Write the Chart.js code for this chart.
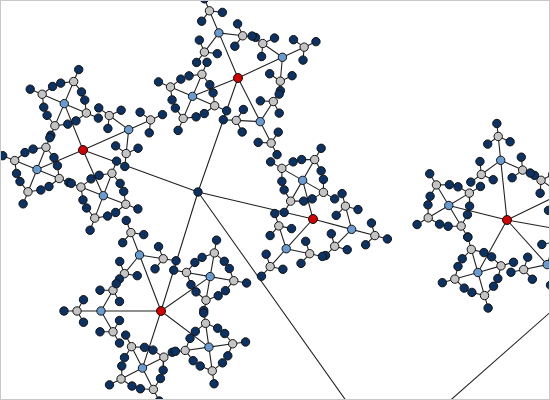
<!DOCTYPE html>
<html>
<head>
<meta charset="utf-8">
<script src="https://cdn.jsdelivr.net/npm/chart.js@4"></script>
<style>
  html, body { margin: 0; padding: 0; background: #fff; }
  #wrap { width: 548px; height: 398px; border: 1px solid #c8c8c8; }
</style>
</head>
<body>
<div id="wrap"><canvas id="tree" width="548" height="398"></canvas></div>
<script>
// tree (pixel coords, y down)
const rootPos = [385, 456];
const hubX = [197, 629];
const hubY = [191, 241];
const redX = [82, 237, 312, 160, 506];
const redY = [149, 77, 218, 310, 219];
const redHub = [0, 0, 0, 0, 1];
const blueDist = [50, 49, 40, 60, 60];
const blueAngles = [
  [66, 157, 248, 336],
  [63, 158, 247, 335],
  [15, 132, 255],
  [37, 108, 180, 249, 325],
  [-96, -26, 48, 119, 194]
];
const grayCounts = [
  [4, 4, 4, 3],
  [3, 4, 3, 3],
  [3, 3, 4],
  [4, 4, 3, 3, 4],
  [3, 3, 3, 4, 4]
];
const grayDist = 24;
const leafDist = 13;
const leavesPerGray = 3;

const rad = d => d * Math.PI / 180;
const edges = [];
const hubs = [], reds = [], blues = [], grays = [], leaves = [];

function addEdge(a, b) {
  edges.push({x: a.x, y: a.y}, {x: b.x, y: b.y}, {x: null, y: null});
}
// children spread around a node, leaving a gap toward its parent
function spread(node, parent, n, dist) {
  const back = Math.atan2(parent.y - node.y, parent.x - node.x) * 180 / Math.PI;
  const out = [];
  for (let k = 0; k < n; k++) {
    const a = rad(back + (180 + 360 * k) / n);
    out.push({x: node.x + dist * Math.cos(a), y: node.y + dist * Math.sin(a)});
  }
  return out;
}

const root = {x: rootPos[0], y: rootPos[1]};
hubX.forEach((x, i) => {
  const h = {x: x, y: hubY[i]};
  hubs.push(h);
  addEdge(root, h);
});

redX.forEach((x, i) => {
  const r = {x: x, y: redY[i]};
  const hub = hubs[redHub[i]];
  reds.push(r);
  addEdge(hub, r);
  blueAngles[i].forEach((ang, j) => {
    const b = {x: r.x + blueDist[i] * Math.cos(rad(ang)), y: r.y + blueDist[i] * Math.sin(rad(ang))};
    blues.push(b);
    addEdge(r, b);
    spread(b, r, grayCounts[i][j], grayDist).forEach(g => {
      grays.push(g);
      addEdge(b, g);
      spread(g, b, leavesPerGray, leafDist).forEach(l => {
        leaves.push(l);
        addEdge(g, l);
      });
    });
  });
});

const nodeSet = (data, color, r) => ({
  type: 'scatter', data: data, order: 0,
  pointRadius: r, pointBackgroundColor: color,
  pointBorderColor: '#111', pointBorderWidth: 1, showLine: false
});

new Chart(document.getElementById('tree').getContext('2d'), {
  type: 'scatter',
  data: {
    datasets: [
      {type: 'line', data: edges, order: 10, borderColor: '#222', borderWidth: 1.1,
       pointRadius: 0, spanGaps: false, fill: false},
      nodeSet(leaves, '#0b3262', 4.2),
      nodeSet(grays, '#c4c4c4', 4.2),
      nodeSet(blues, '#6a9bd0', 4.2),
      nodeSet(hubs, '#0b3262', 4.2),
      nodeSet(reds, '#d00000', 4.5)
    ]
  },
  options: {
    responsive: false,
    animation: false,
    layout: {padding: 0, autoPadding: false},
    plugins: {legend: {display: false}, tooltip: {enabled: false}},
    scales: {
      x: {type: 'linear', min: 0, max: 548, display: false},
      y: {type: 'linear', min: 0, max: 398, reverse: true, display: false}
    }
  }
});
</script>
</body>
</html>
